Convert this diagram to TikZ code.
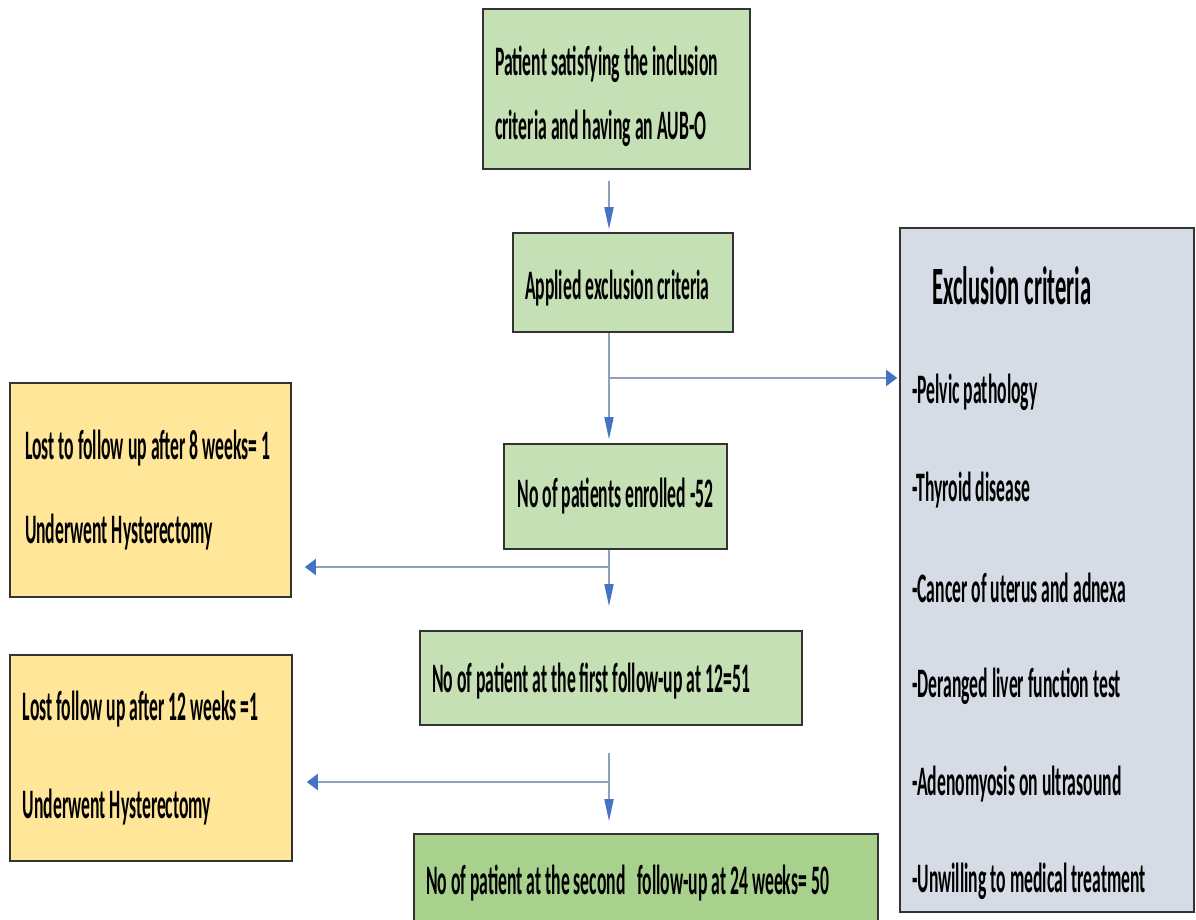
\documentclass[tikz,border=0pt]{standalone}
\usepackage{fontspec}
\setmainfont{Carlito}[FakeStretch=0.42]
\usetikzlibrary{arrows.meta}
\definecolor{lightgreen}{HTML}{C5E0B4}
\definecolor{midgreen}{HTML}{A9D18E}
\definecolor{paleyellow}{HTML}{FFE699}
\definecolor{bluegray}{HTML}{D6DCE5}
\definecolor{arrowblue}{HTML}{4472C4}
\definecolor{linegray}{HTML}{8EA0BE}
\newcommand{\boxfont}{\fontsize{42}{64}\selectfont\bfseries}
\newcommand{\titlefont}{\fontsize{54}{64}\selectfont\bfseries}

\begin{document}
\begin{tikzpicture}[
    x=1pt,y=-1pt,
    box/.style={draw=black!80,line width=1.6pt,align=left,inner xsep=12pt,inner ysep=0pt,font=\boxfont,
        execute at begin node={\spaceskip=0pt\xspaceskip=0pt\relax}},
    item/.style={anchor=west,inner sep=0pt,font=\boxfont},
    varr/.style={-{Triangle[length=22pt,width=9pt,color=arrowblue]},line width=1.6pt,draw=linegray},
    harr/.style={-{Triangle[length=11pt,width=16pt,color=arrowblue]},line width=1.8pt,draw=linegray}
]
\clip (0,0) rectangle (1196,919);
\fill[white] (0,0) rectangle (1196,919);

% main column
\node[box,fill=lightgreen,minimum width=267pt,minimum height=160pt,text width=243pt,text height=44pt] (incl) at (616.5,89) {\mbox{Patient satisfying the inclusion}\\\mbox{criteria and having an AUB-O}};
\node[box,fill=lightgreen,minimum width=220pt,minimum height=99pt,text width=196pt,text height=40pt] (appl) at (623,282.5) {\mbox{Applied exclusion criteria}};
\node[box,fill=lightgreen,minimum width=223pt,minimum height=105pt,align=center] (enrol) at (615.5,496.5) {No of patients enrolled -52};
\node[box,fill=lightgreen,minimum width=382pt,minimum height=94pt,text width=358pt,text height=36pt] (fu1) at (611,678) {\mbox{No of patient at the first follow-up at 12=51}};
\node[box,fill=midgreen,minimum width=464pt,minimum height=98pt,text width=440pt] (fu2) at (646,883) {\mbox{No of patient at the second\ \ \ follow-up at 24 weeks= 50}};

% side boxes
\node[box,fill=paleyellow,minimum width=281pt,minimum height=214pt,text width=251pt,inner xsep=15pt] (lost1) at (150.5,490) {\mbox{Lost to follow up after 8 weeks= 1}\\[20pt]\mbox{Underwent Hysterectomy}};
\node[box,fill=paleyellow,minimum width=282pt,minimum height=206pt,text width=256pt,inner xsep=13pt] (lost2) at (151,758) {\mbox{Lost follow up after 12 weeks =1}\\[34pt]\mbox{Underwent Hysterectomy}};
\node[box,fill=bluegray,minimum width=294pt,minimum height=684pt] (excl) at (1047,570) {};
\node[item,font=\titlefont] (exT) at (932,286) {Exclusion criteria};
\node[item] (ex1) at (912,392) {-Pelvic pathology};
\node[item] (ex2) at (912,490) {-Thyroid disease};
\node[item] (ex3) at (912,588) {-Cancer of uterus and adnexa};
\node[item] (ex4) at (912,686) {-Deranged liver function test};
\node[item] (ex5) at (912,784) {-Adenomyosis on ultrasound};
\node[item] (ex6) at (912,881) {-Unwilling to medical treatment};

% connectors
\coordinate (spine) at (609,0);
\coordinate (br1) at (609,378);
\coordinate (br2) at (609,567);
\coordinate (br3) at (609,782);
\draw[varr,shorten <=11pt,shorten >=3pt] (incl.south -| spine) -- (appl.north -| spine);
\draw[varr,shorten >=4pt] (appl.south -| spine) -- (enrol.north -| spine);
\draw[harr,shorten >=2pt] (br1) -- (br1 -| excl.west);
\draw[varr,shorten >=24pt] (enrol.south -| spine) -- (fu1.north -| spine);
\draw[harr,shorten >=13pt] (br2) -- (br2 -| lost1.east);
\draw[varr,shorten <=27pt,shorten >=12pt] (fu1.south -| spine) -- (fu2.north -| spine);
\draw[harr,shorten >=14pt] (br3) -- (br3 -| lost2.east);
\end{tikzpicture}
\end{document}
